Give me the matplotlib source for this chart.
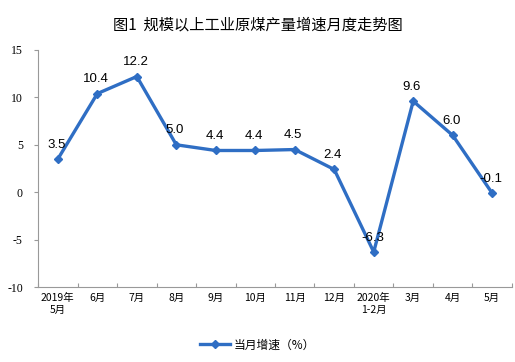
import matplotlib.pyplot as plt
import numpy as np

plt.rcParams['font.family'] = ['Noto Sans CJK SC', 'DejaVu Sans']

# 月份和当月增速
months = ['2019年\n5月', '6月', '7月', '8月', '9月', '10月', '11月', '12月',
          '2020年\n1-2月', '3月', '4月', '5月']
growth = [3.5, 10.4, 12.2, 5.0, 4.4, 4.4, 4.5, 2.4, -6.3, 9.6, 6.0, -0.1]
yticks = [-10, -5, 0, 5, 10, 15]

color = '#2F6EC4'

fig = plt.figure(figsize=(5.15, 3.62), dpi=100)
ax = fig.add_axes([0.074, 0.207, 0.920, 0.655])

x = np.arange(len(months))
ax.plot(x, growth, color=color, lw=2.4, marker='D', ms=4,
        markerfacecolor=color, markeredgecolor=color, label='当月增速（%）')

for xi, v in zip(x, growth):
    ax.annotate(f'{v:.1f}', (xi, v), xytext=(-1, 6), textcoords='offset points',
                ha='center', va='bottom', fontsize=9.5, family='Liberation Sans')

ax.set_xlim(-0.5, len(months) - 0.5)
ax.set_ylim(-10, 15)
ax.set_yticks(yticks)
ax.set_yticklabels([str(t) for t in yticks], family='Liberation Serif', fontsize=8.5)

# 类别刻度放在类别之间
ax.set_xticks(np.arange(-0.5, len(months), 1.0))
ax.set_xticklabels([])
ax.set_xticks(x, minor=True)
ax.set_xticklabels(months, minor=True, fontsize=7.5, linespacing=1.3)
ax.tick_params(axis='x', which='minor', length=0, pad=4)
ax.tick_params(axis='x', which='major', length=3, color='#999999', direction='in')
ax.tick_params(axis='y', length=3, color='#999999', pad=8)

for s in ['top', 'right']:
    ax.spines[s].set_visible(False)
for s in ['left', 'bottom']:
    ax.spines[s].set_color('#999999')
    ax.spines[s].set_linestyle((0, (2, 1)))
    ax.spines[s].set_linewidth(0.8)

fig.suptitle('图1  规模以上工业原煤产量增速月度走势图', y=0.955, fontsize=11,
             fontweight='medium')

fig.legend(loc='center', bbox_to_anchor=(0.5, 0.047), frameon=False,
           fontsize=8.5, handlelength=2.6, handletextpad=0.3)

fig.savefig('out.png', dpi=100)
